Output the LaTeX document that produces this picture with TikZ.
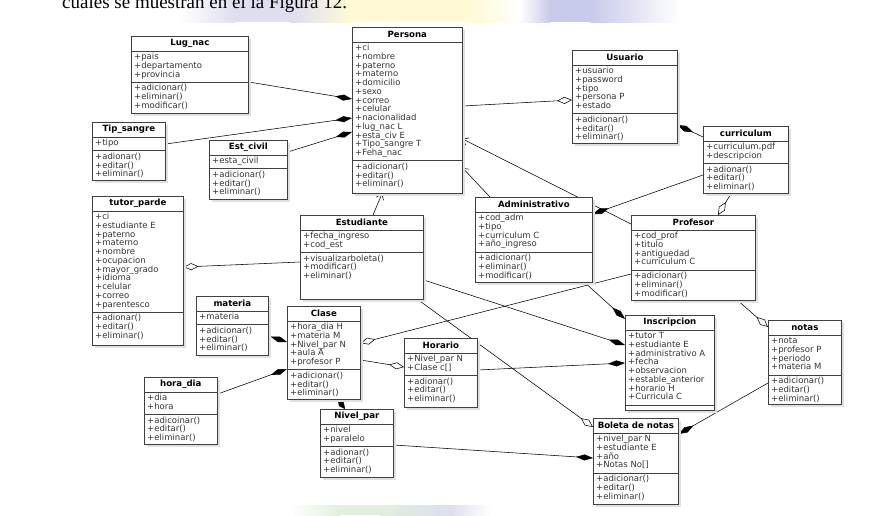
\documentclass[tikz,border=0pt]{standalone}
\usepackage{fontspec}
\setmainfont{Liberation Serif}
\newfontfamily\umlfont{DejaVu Sans}
\usetikzlibrary{arrows.meta,calc}
\pgfdeclarelayer{bg}
\pgfsetlayers{bg,main}
\definecolor{wmlav}{RGB}{222,222,240}
\definecolor{wmyel}{RGB}{255,249,214}
\definecolor{wmblu}{RGB}{200,202,234}
\definecolor{wmgrn}{RGB}{224,240,220}
\tikzset{
 clsbox/.style={draw=black!75, line width=0.7pt, fill=white, inner sep=0pt, rectangle},
 clsshadow/.style={fill=black!12},
 clstitle/.style={font=\umlfont\bfseries\fontsize{8.6}{9}\selectfont, inner sep=0pt, text=black},
 clstext/.style={font=\umlfont\fontsize{8.5}{8.75}\selectfont, inner sep=0pt, anchor=base west, text=black!80},
 clssep/.style={draw=black!75, line width=0.7pt},
 conn/.style={draw=black, line width=0.55pt},
 comp/.style={conn, -{Diamond[length=17pt,width=6pt]}},
 compshort/.style={conn, -{Diamond[length=12pt,width=6pt]}},
 aggr/.style={conn, -{Diamond[open,length=15pt,width=7pt]}},
 gen/.style={conn, -{Straight Barb[length=5pt,width=8pt]}},
}
\newcommand\umlbox[9]{%
  \fill[clsshadow] (#2+2.5,#3+2.5) rectangle ++(#4,#5);
  \node[clsbox, minimum width=#4pt, minimum height=#5pt, anchor=north west] (#1) at (#2,#3) {};
  \node[clstitle] (#1-title) at ([yshift=-7.5pt]#1.north) {#6};
  \draw[clssep] ([yshift=-15pt]#1.north west) -- ([yshift=-15pt]#1.north east);
  \pgfmathsetmacro\umlsepb{20+#7*8.75}
  \draw[clssep] ([yshift=-\umlsepb pt]#1.north west) -- ([yshift=-\umlsepb pt]#1.north east);
  \foreach \t [count=\i] in {#8} \node[clstext] (#1-a\i) at ([xshift=3pt,yshift={-14.75pt-\i*8.75pt}]#1.north west) {\t};
  \foreach \t [count=\i] in {#9} \node[clstext] (#1-m\i) at ([xshift=3pt,yshift={-\umlsepb pt+0.25pt-\i*8.75pt}]#1.north west) {\t};
}
\begin{document}
\begin{tikzpicture}[x=1pt,y=-1pt]
\useasboundingbox (0,0) rectangle (873,515);
\clip (0,0) rectangle (873,515);
\begin{pgfonlayer}{bg}
\fill[white] (0,0) rectangle (873,515);
% faint watermark bands
\shade[left color=white, right color=wmlav] (180,0) rectangle (235,22);
\fill[wmlav] (235,0) rectangle (290,22);
\shade[left color=wmlav, right color=wmyel] (290,0) rectangle (350,22);
\fill[wmyel] (350,0) rectangle (470,22);
\shade[left color=wmyel, right color=white] (470,0) rectangle (520,22);
\shade[left color=white, right color=wmblu] (520,0) rectangle (550,22);
\fill[wmblu] (550,0) rectangle (590,22);
\shade[left color=wmblu, right color=white] (590,0) rectangle (680,22);
\shade[left color=white, right color=wmgrn] (290,505) rectangle (340,515);
\fill[wmgrn] (340,505) rectangle (380,515);
\shade[left color=wmgrn, right color=wmlav] (380,505) rectangle (450,515);
\shade[left color=wmlav, right color=white] (450,505) rectangle (490,515);
\node[anchor=base west, font=\fontsize{19}{20}\selectfont, inner sep=0pt] (caption) at (62,8) {cuales se muestran en el la Figura 12.};
\end{pgfonlayer}

\umlbox{lug}{131}{36}{117}{77}{Lug\_nac}{3}{+pais,+departamento,+provincia}{+adicionar(),+eliminar(),+modificar()}
\umlbox{persona}{352}{27}{110}{166}{Persona}{13}{+ci,+nombre,+paterno,+materno,+domicilio,+sexo,+correo,+celular,+nacionalidad,+lug\_nac L,+esta\_civ E,+Tipo\_sangre T,+Feha\_nac}{+adicionar(),+editar(),+eliminar()}
\umlbox{usuario}{572}{50}{105}{93}{Usuario}{5}{+usuario,+password,+tipo,+persona P,+estado}{+adicionar(),+editar(),+eliminar()}
\umlbox{curr}{703}{126}{85}{67}{curriculum}{2}{+curriculum.pdf,+descripcion}{+adionar(),+editar(),+eliminar()}
\umlbox{tip}{92}{122}{73}{58}{Tip\_sangre}{1}{+tipo}{+adionar(),+editar(),+eliminar()}
\umlbox{est}{209}{140}{78}{59}{Est\_civil}{1}{+esta\_civil}{+adicionar(),+editar(),+eliminar()}
\umlbox{tutor}{92}{196}{91}{149}{tutor\_parde}{11}{+ci,+estudiante E,+paterno,+materno,+nombre,+ocupacion,+mayor\_grado,+idioma,+celular,+correo,+parentesco}{+adionar(),+editar(),+eliminar()}
\umlbox{estud}{300}{215}{123}{84}{Estudiante}{2}{+fecha\_ingreso,+cod\_est}{+visualizarboleta(),+modificar(),+eliminar()}
\umlbox{admin}{475}{197}{117}{85}{Administrativo}{4}{+cod\_adm,+tipo,+curriculum C,+año\_ingreso}{+adicionar(),+eliminar(),+modificar()}
\umlbox{prof}{631}{215}{124}{85}{Profesor}{4}{+cod\_prof,+titulo,+antiguedad,+curriculum C}{+adicionar(),+eliminar(),+modificar()}
\umlbox{materia}{196}{296}{72}{59}{materia}{1}{+materia}{+adicionar(),+editar(),+eliminar()}
\umlbox{clase}{287}{306}{73}{93}{Clase}{5}{+hora\_dia H,+materia M,+Nivel\_par N,+aula A,+profesor P}{+adicionar(),+editar(),+eliminar()}
\umlbox{hora}{144}{377}{73}{67}{hora\_dia}{2}{+dia,+hora}{+adicoinar(),+editar(),+eliminar()}
\umlbox{nivel}{320}{409}{73}{68}{Nivel\_par}{2}{+nivel,+paralelo}{+adionar(),+editar(),+eliminar()}
\umlbox{horario}{404}{338}{73}{69}{Horario}{2}{+Nivel\_par N,+Clase c[]}{+adionar(),+editar(),+eliminar()}
\umlbox{insc}{625}{315}{89}{95}{Inscripcion}{8}{+tutor T,+estudiante E,+administrativo A,+fecha,+observacion,+estable\_anterior,+horario H,+Curricula C}{}
\umlbox{notas}{768}{320}{73}{84}{notas}{4}{+nota,+profesor P,+periodo,+materia M}{+adicionar(),+editar(),+eliminar()}
\umlbox{boleta}{593}{418}{85}{86}{Boleta de notas}{4}{+nivel\_par N,+estudiante E,+año,+Notas No[]}{+adicionar(),+editar(),+eliminar()}

\begin{pgfonlayer}{bg}
\draw[comp] ([yshift=-46pt]lug.north east) -- ([yshift=-72pt]persona.north west);
\draw[comp] ([yshift=-22pt]tip.north east) -- ([yshift=-91pt]persona.north west);
\draw[comp] ([yshift=-12pt]est.north east) -- ([yshift=-105pt]persona.north west);
\draw[aggr] ([yshift=-79pt]persona.north east) -- ([yshift=-50pt]usuario.north west);
\draw[comp] ([yshift=-11pt]curr.north west) -- ([yshift=-75pt]usuario.north east);
\draw[comp] ([yshift=-49pt]curr.north west) -- ([yshift=-17pt]admin.north east);
\draw[aggr] ([xshift=28pt]curr.south west) -- ([xshift=87pt]prof.north west);
\draw[gen] ([xshift=73pt]estud.north west) -- ([xshift=30pt]persona.south west);
\draw[gen] ([xshift=15pt]admin.north west) -- ([yshift=-141pt]persona.north east);
\draw[gen] ([yshift=-9pt]prof.north west) -- ([yshift=-112pt]persona.north east);
\draw[aggr] ([yshift=-47pt]estud.north west) -- ([yshift=-71pt]tutor.north east);
\draw[comp] ([yshift=-40pt]materia.north east) -- ([yshift=-36pt]clase.north west);
\draw[comp] ([yshift=-17pt]hora.north east) -- ([yshift=-63pt]clase.north west);
\draw[compshort] ([xshift=51pt]clase.south west) -- ([xshift=25pt]nivel.north west);
\draw[aggr] ([yshift=-59pt]prof.north west) -- ([yshift=-37pt]clase.north east);
\draw[aggr] ([yshift=-54pt]clase.north east) -- ([yshift=-29pt]horario.north west);
\draw[comp] ([yshift=-32pt]horario.north east) -- ([yshift=-48pt]insc.north west);
\draw[comp] ([yshift=-65pt]estud.north east) -- ([yshift=-30pt]insc.north west);
\draw[comp] ([xshift=110pt]admin.south west) -- ([yshift=-4pt]insc.north west);
\draw[aggr] ([xshift=118pt]estud.south west) -- ([yshift=-9pt]boleta.north west);
\draw[comp] ([yshift=-36pt]nivel.north east) -- ([yshift=-40pt]boleta.north west);
\draw[comp] ([yshift=-63pt]notas.north west) -- ([yshift=-16pt]boleta.north east);
\draw[aggr] ([xshift=107pt]prof.south west) -- ([yshift=-7pt]notas.north west);
\end{pgfonlayer}
\end{tikzpicture}
\end{document}
